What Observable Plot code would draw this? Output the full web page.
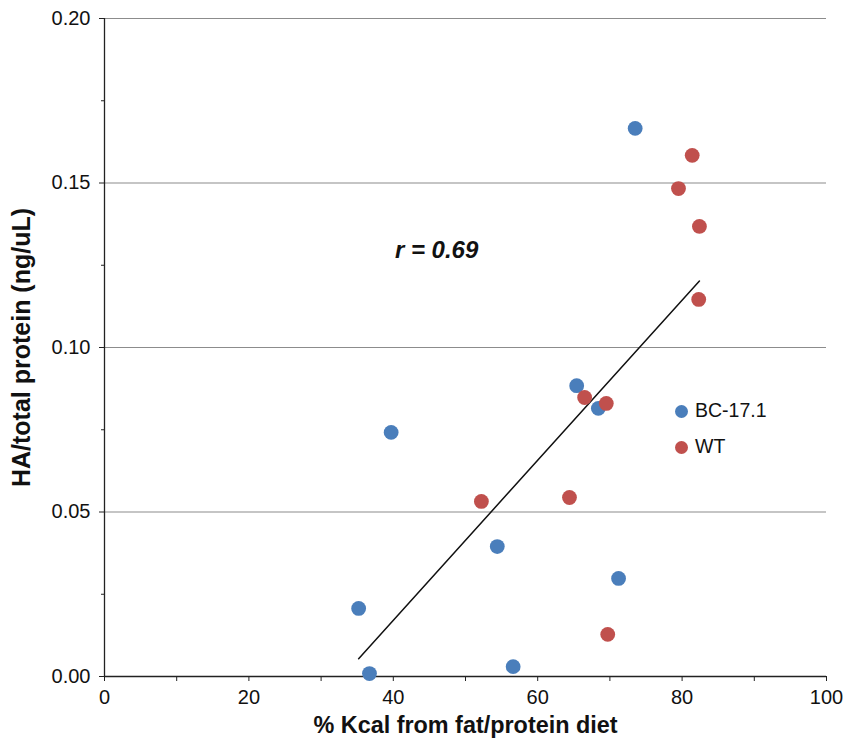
<!DOCTYPE html>
<html>
<head>
<meta charset="utf-8">
<script src="https://cdn.jsdelivr.net/npm/d3@7"></script>
<script src="https://cdn.jsdelivr.net/npm/@observablehq/plot@0.6"></script>
<style>
  html, body { margin: 0; padding: 0; background: #fff; }
  #wrap { position: relative; width: 844px; height: 744px; font-family: "Liberation Sans", Arial, sans-serif; }
  #legend { position: absolute; left: 675px; top: 392px; font-size: 19.5px; color: #111; line-height: 36px; }
  #legend .sw { display: inline-block; width: 13px; height: 13px; border-radius: 50%; margin-right: 7px; vertical-align: -1px; }
</style>
</head>
<body>
<div id="wrap"><div id="legend"></div></div>
<script>
// Series names and colours
const seriesNames = ["BC-17.1", "WT"];
const seriesColors = ["#4A7EBB", "#C0504D"];

// BC-17.1 (blue)
const bcX = [73.5, 65.4, 68.4, 39.7, 54.4, 71.2, 35.2, 36.7, 56.6];
const bcY = [0.1666, 0.0884, 0.0815, 0.0742, 0.0395, 0.0298, 0.0207, 0.0009, 0.0030];

// WT (red)
const wtX = [81.4, 79.5, 82.4, 82.3, 66.5, 69.5, 52.2, 64.4, 69.7];
const wtY = [0.1584, 0.1483, 0.1368, 0.1146, 0.0848, 0.0830, 0.0532, 0.0544, 0.0128];

// Axis ticks
const xTicks = [0, 10, 20, 30, 40, 50, 60, 70, 80, 90, 100];
const xLabels = [0, 20, 40, 60, 80, 100];
const yMinorTicks = [0.025, 0.075, 0.125, 0.175];
const yLabels = [0, 0.05, 0.10, 0.15, 0.20];
const yGrid = [0.05, 0.10, 0.15, 0.20];

// Annotation
const annotation = [{x: 46, y: 0.1295, label: "r = 0.69"}];

const points = [
  ...bcX.map((x, i) => ({x, y: bcY[i], series: seriesNames[0]})),
  ...wtX.map((x, i) => ({x, y: wtY[i], series: seriesNames[1]}))
];

const font = '"Liberation Sans", Arial, sans-serif';

const chart = Plot.plot({
  width: 844,
  height: 744,
  marginLeft: 104,
  marginRight: 18,
  marginTop: 18,
  marginBottom: 68,
  style: {fontFamily: font, fontSize: "20px", color: "#111", background: "#fff"},
  x: {domain: [0, 100]},
  y: {domain: [0, 0.20]},
  color: {domain: seriesNames, range: seriesColors},
  marks: [
    Plot.ruleY(yGrid, {stroke: "#8c8c8c", strokeWidth: 1.2}),
    Plot.axisX({ticks: xTicks, tickSize: 5, tickPadding: 8, tickFormat: d => xLabels.includes(d) ? String(d) : "", stroke: "#222", label: null, fontSize: 20}),
    Plot.axisY({ticks: yLabels, tickSize: 5, tickPadding: 9, tickFormat: d3.format(".2f"), stroke: "#222", label: null, fontSize: 20}),
    Plot.axisY({ticks: yMinorTicks, tickSize: 3, tickFormat: () => "", stroke: "#222", label: null}),
    Plot.ruleX([0], {stroke: "#222", strokeWidth: 1.3}),
    Plot.ruleY([0], {stroke: "#222", strokeWidth: 1.3}),
    Plot.linearRegressionY(points, {x: "x", y: "y", stroke: "#111", strokeWidth: 1.5, ci: 0}),
    Plot.dot(points, {x: "x", y: "y", fill: "series", r: 7.4, stroke: "none"}),
    Plot.text(annotation, {x: "x", y: "y", text: "label", fontSize: 24, fontWeight: "bold", fontStyle: "italic", fill: "#111"}),
    Plot.text(["% Kcal from fat/protein diet"], {frameAnchor: "bottom", textAnchor: "middle", lineAnchor: "middle", dy: 48.5, fontSize: 23.4, fontWeight: "bold", fill: "#111"}),
    Plot.text(["HA/total protein (ng/uL)"], {frameAnchor: "left", textAnchor: "middle", lineAnchor: "middle", dx: -83, rotate: -90, fontSize: 25, fontWeight: "bold", fill: "#111"})
  ]
});

const wrap = document.getElementById("wrap");
wrap.insertBefore(chart, wrap.firstChild);

const legend = document.getElementById("legend");
seriesNames.forEach((name, i) => {
  const row = document.createElement("div");
  const sw = document.createElement("span");
  sw.className = "sw";
  sw.style.background = seriesColors[i];
  row.appendChild(sw);
  row.appendChild(document.createTextNode(name));
  legend.appendChild(row);
});
</script>
</body>
</html>
